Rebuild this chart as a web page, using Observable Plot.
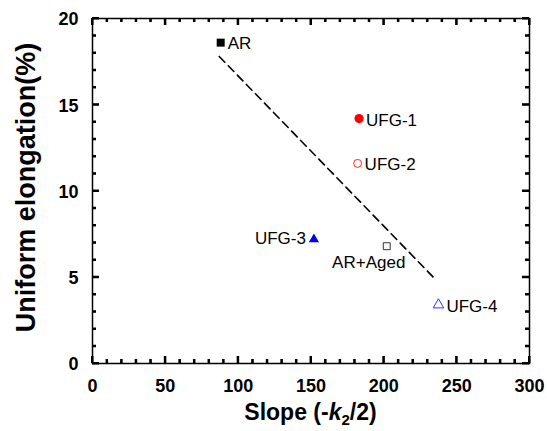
<!DOCTYPE html>
<html><head><meta charset="utf-8">
<script src="https://cdn.jsdelivr.net/npm/d3@7"></script>
<script src="https://cdn.jsdelivr.net/npm/@observablehq/plot@0.6"></script>
<style>body{margin:0;background:#fff;}</style>
</head><body><div id="chart"></div>
<script>
// ---- data ----
const labels = ["AR", "UFG-1", "UFG-2", "UFG-3", "AR+Aged", "UFG-4"];
const slope = [88, 183, 182, 152, 202, 237.5];
const elongation = [18.6, 14.2, 11.6, 7.2, 6.8, 3.4];
const trendSlope = [87, 234];
const trendElongation = [17.8, 5.0];
const xTicks = [0, 50, 100, 150, 200, 250, 300];
const yTicks = [0, 5, 10, 15, 20];
const xMinor = [10, 20, 30, 40, 60, 70, 80, 90, 110, 120, 130, 140, 160, 170, 180, 190, 210, 220, 230, 240, 260, 270, 280, 290];
const yMinor = [1, 2, 3, 4, 6, 7, 8, 9, 11, 12, 13, 14, 16, 17, 18, 19];

// ---- styles ----
const FONT = "'Liberation Sans', Arial, Helvetica, sans-serif";
const W = 547, H = 431, ML = 92, MR = 18, MT = 18, MB = 68;
const style = {
  "AR":      {symbol: "square",   fill: "#000", stroke: "none", r: 4.5},
  "UFG-1":   {symbol: "circle",   fill: "#f00", stroke: "none", r: 4.6},
  "UFG-2":   {symbol: "circle",   fill: "none", stroke: "#f22", r: 4.0},
  "UFG-3":   {symbol: "triangle", fill: "#00f", stroke: "none", r: 3.8},
  "AR+Aged": {symbol: "square",   fill: "none", stroke: "#333", r: 3.9},
  "UFG-4":   {symbol: "triangle", fill: "none", stroke: "#33f", r: 3.9}
};
const labelPos = {
  "AR":      {textAnchor: "start", dx: 7, dy: 1},
  "UFG-1":   {textAnchor: "start", dx: 7, dy: 2},
  "UFG-2":   {textAnchor: "start", dx: 7, dy: 1},
  "UFG-3":   {textAnchor: "end",   dx: -8, dy: -1},
  "AR+Aged": {textAnchor: "middle", dx: -18, dy: 16},
  "UFG-4":   {textAnchor: "start", dx: 8, dy: 2}
};

const points = labels.map((label, i) => ({label, x: slope[i], y: elongation[i]}));
const trend = trendSlope.map((x, i) => ({x, y: trendElongation[i]}));

const xDomain = [0, 300], yDomain = [0, 20];
const pxX = (W - ML - MR) / (xDomain[1] - xDomain[0]);
const pxY = (H - MT - MB) / (yDomain[1] - yDomain[0]);
const MAJ = 7, MIN = 4;
const xAll = [...xTicks.map(v => [v, MAJ]), ...xMinor.map(v => [v, MIN])];
const yAll = [...yTicks.map(v => [v, MAJ]), ...yMinor.map(v => [v, MIN])];
const ruleXData = xAll.flatMap(([v, len]) => [
  {x: v, a: yDomain[0], b: yDomain[0] + len / pxY}, {x: v, a: yDomain[1], b: yDomain[1] - len / pxY}]);
const ruleYData = yAll.flatMap(([v, len]) => [
  {y: v, a: xDomain[0], b: xDomain[0] + len / pxX}, {y: v, a: xDomain[1], b: xDomain[1] - len / pxX}]);

const marks = [
  Plot.line(trend, {x: "x", y: "y", stroke: "black", strokeWidth: 1.6, strokeDasharray: "8,5"}),
  ...labels.map(l => Plot.dot(points.filter(d => d.label === l), {
    x: "x", y: "y", symbol: style[l].symbol, fill: style[l].fill,
    stroke: style[l].stroke, strokeWidth: 1, r: style[l].r
  })),
  ...labels.map(l => Plot.text(points.filter(d => d.label === l), {
    x: "x", y: "y", text: "label", fontSize: 17, fontFamily: FONT, fill: "black",
    lineAnchor: "middle", ...labelPos[l]
  })),
  Plot.ruleX(ruleXData, {x: "x", y1: "a", y2: "b", stroke: "black", strokeWidth: 2}),
  Plot.ruleY(ruleYData, {y: "y", x1: "a", x2: "b", stroke: "black", strokeWidth: 2}),
  Plot.frame({stroke: "black", strokeWidth: 1.5}),
  Plot.axisX(xTicks, {anchor: "bottom", tickSize: 0, tickPadding: 16, fontSize: 18,
    fontWeight: "bold", fontFamily: FONT, label: null, tickFormat: d => String(d)}),
  Plot.axisY(yTicks, {anchor: "left", tickSize: 0, tickPadding: 14, fontSize: 18,
    fontWeight: "bold", fontFamily: FONT, label: null, dy: 1, tickFormat: d => String(d)})
];

const plot = Plot.plot({
  width: W, height: H,
  marginLeft: ML, marginRight: MR, marginTop: MT, marginBottom: MB,
  style: {fontFamily: FONT},
  x: {domain: xDomain, axis: null},
  y: {domain: yDomain, axis: null},
  marks
});

const svg = d3.select(plot);
const sx = plot.scale("x"), sy = plot.scale("y");

// extra tick layer positioned through Plot's own scales
const tg = svg.append("g").attr("stroke", "black").attr("stroke-width", 2).attr("fill", "none");
const x0 = sx.apply(xDomain[0]), x1 = sx.apply(xDomain[1]);
const y0 = sy.apply(yDomain[0]), y1 = sy.apply(yDomain[1]);
let d = "";
for (const [v, len] of xAll) {
  const px = sx.apply(v);
  d += `M${px},${y0}V${y0 - len}M${px},${y1}V${y1 + len}`;
}
for (const [v, len] of yAll) {
  const py = sy.apply(v);
  d += `M${x0},${py}H${x0 + len}M${x1},${py}H${x1 - len}`;
}
tg.append("path").attr("d", d);

// axis titles (rich text)
const xr = sx.range, yr = sy.range;
const xt = svg.append("text")
  .attr("x", (xr[0] + xr[1]) / 2).attr("y", 420)
  .attr("text-anchor", "middle").attr("font-family", FONT)
  .attr("font-weight", "bold").attr("font-size", 23).attr("fill", "black");
xt.append("tspan").text("Slope (-");
xt.append("tspan").attr("font-style", "italic").text("k");
xt.append("tspan").attr("font-size", 15).attr("dy", 5).text("2");
xt.append("tspan").attr("dy", -5).text("/2)");

svg.append("text")
  .attr("transform", `translate(35,${(yr[0] + yr[1]) / 2 - 3}) rotate(-90)`)
  .attr("text-anchor", "middle").attr("font-family", FONT)
  .attr("font-weight", "bold").attr("font-size", 27).attr("fill", "black")
  .text("Uniform elongation(%)");

document.getElementById("chart").appendChild(plot);
</script>
</body></html>
